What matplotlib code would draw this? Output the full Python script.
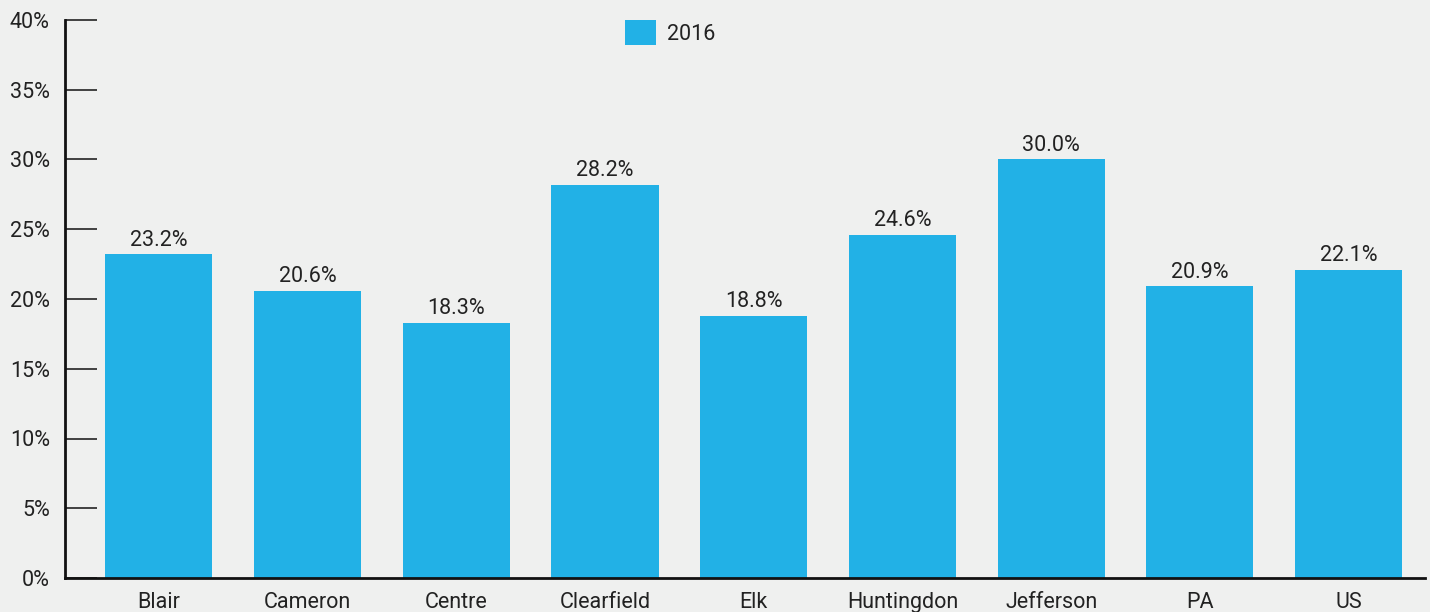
import matplotlib
matplotlib.use("Agg")
import matplotlib.pyplot as plt
from matplotlib.patches import Patch
import numpy as np

categories = ["Blair", "Cameron", "Centre", "Clearfield", "Elk", "Huntingdon", "Jefferson", "PA", "US"]
values_2016 = [23.2, 20.6, 18.3, 28.2, 18.8, 24.6, 30.0, 20.9, 22.1]
yticks = [0, 5, 10, 15, 20, 25, 30, 35, 40]
series_name = "2016"

plt.rcParams['font.family'] = ['Roboto', 'DejaVu Sans']
bg = "#eff0ef"
bar_color = "#22b1e6"
txt = "#222222"
fs = 15.5

fig = plt.figure(figsize=(14.3, 6.12), dpi=100, facecolor=bg)
ax = fig.add_axes([65/1430, 34/612, 1360/1430, 558/612])
ax.set_facecolor(bg)

x = np.arange(len(categories))
ax.bar(x, values_2016, width=0.72, color=bar_color, zorder=2)
for xi, v in zip(x, values_2016):
    ax.text(xi, v + 0.25, f"{v:.1f}%", ha="center", va="bottom", fontsize=fs, color=txt)

ax.set_xlim(-0.631, 8.514)
ax.set_ylim(0, 40)
ax.set_yticks(yticks)
ax.set_yticklabels([f"{t}%" for t in yticks], fontsize=fs, color=txt)
ax.set_xticks(x)
ax.set_xticklabels(categories, fontsize=fs, color=txt)
ax.tick_params(axis="y", direction="in", length=23, width=1.3, color="#333333", pad=11)
ax.tick_params(axis="x", length=0, pad=10)
for s in ["top", "right"]:
    ax.spines[s].set_visible(False)
for s in ["left", "bottom"]:
    ax.spines[s].set_linewidth(2)
    ax.spines[s].set_color("#111111")

leg = ax.legend(handles=[Patch(facecolor=bar_color, label=series_name)], loc="upper center",
                bbox_to_anchor=(0.445, 1.035), frameon=False, fontsize=fs,
                handlelength=1.45, handleheight=1.45, handletextpad=0.5)
for t in leg.get_texts():
    t.set_color(txt)

fig.savefig("out.png", dpi=100, facecolor=bg)
